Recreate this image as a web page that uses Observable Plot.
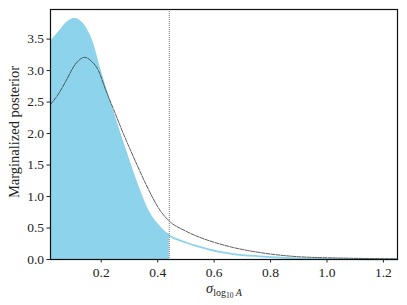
<!DOCTYPE html>
<html>
<head>
<meta charset="utf-8">
<script src="https://cdn.jsdelivr.net/npm/d3@7"></script>
<script src="https://cdn.jsdelivr.net/npm/@observablehq/plot@0.6"></script>
<style>
  html, body { margin: 0; padding: 0; background: #fff; }
  #chart svg { display: block; }
</style>
</head>
<body>
<div id="chart"></div>
<script>
// Filled (blue) marginalized posterior
const blueX = [0.021, 0.04, 0.055, 0.073, 0.09, 0.104, 0.119, 0.143, 0.167, 0.19, 0.214, 0.238, 0.265, 0.295, 0.33, 0.362, 0.38, 0.41, 0.441, 0.5, 0.55, 0.61, 0.668, 0.763, 0.904, 1.081, 1.25];
const blueY = [3.46, 3.56, 3.64, 3.74, 3.80, 3.82, 3.80, 3.68, 3.45, 3.08, 2.72, 2.38, 2.0, 1.6, 1.15, 0.80, 0.66, 0.50, 0.38, 0.27, 0.20, 0.13, 0.087, 0.05, 0.016, 0.005, 0.002];
// Dashed (black) curve
const blackX = [0.021, 0.044, 0.073, 0.108, 0.141, 0.165, 0.19, 0.215, 0.244, 0.28, 0.32, 0.36, 0.41, 0.441, 0.5, 0.55, 0.61, 0.668, 0.763, 0.904, 1.081, 1.25];
const blackY = [2.47, 2.6, 2.82, 3.1, 3.21, 3.15, 3.0, 2.7, 2.38, 1.98, 1.57, 1.18, 0.77, 0.61, 0.45, 0.35, 0.26, 0.19, 0.11, 0.043, 0.02, 0.01];
const threshold = 0.441;
const xTicks = [0.2, 0.4, 0.6, 0.8, 1.0, 1.2];
const yTicks = [0.0, 0.5, 1.0, 1.5, 2.0, 2.5, 3.0, 3.5];

const blue = blueX.map((x, i) => ({x, y: blueY[i]}));
const blueFill = blue.filter(d => d.x <= threshold + 1e-9);
const black = blackX.map((x, i) => ({x, y: blackY[i]}));

const plot = Plot.plot({
  width: 407,
  height: 305,
  marginLeft: 50,
  marginRight: 10,
  marginTop: 9,
  marginBottom: 46,
  style: {fontFamily: "'Liberation Serif', 'DejaVu Serif', serif", fontSize: "13.5px", color: "#222"},
  x: {domain: [0.02, 1.25], label: null},
  y: {domain: [0, 3.97], label: null},
  marks: [
    Plot.areaY(blueFill, {x: "x", y: "y", fill: "#8dd3eb", curve: "monotone-x"}),
    Plot.lineY(blue, {x: "x", y: "y", stroke: "#8dd3eb", strokeWidth: 1.8, curve: "monotone-x"}),
    Plot.lineY(black, {x: "x", y: "y", stroke: "#333", strokeWidth: 0.8, strokeDasharray: "4,1.2", curve: "monotone-x"}),
    Plot.ruleX([threshold], {stroke: "#777", strokeWidth: 1, strokeDasharray: "1,1"}),
    Plot.frame({stroke: "#111", strokeWidth: 1.2}),
    Plot.axisX({ticks: xTicks, tickFormat: d3.format(".1f"), tickSize: 3.5, tickPadding: 4, label: null, fontSize: 13.5}),
    Plot.axisY({ticks: yTicks, tickFormat: d3.format(".1f"), tickSize: 3.5, tickPadding: 3, label: null, fontSize: 13.5})
  ]
});
document.getElementById("chart").appendChild(plot);

const svg = d3.select(plot);
// y-axis label
svg.append("text")
  .attr("transform", "translate(19,132) rotate(-90)")
  .attr("text-anchor", "middle")
  .attr("font-size", 14.5)
  .attr("fill", "#222")
  .text("Marginalized posterior");
// x-axis label: σ_{log10 A}
const xl = svg.append("text")
  .attr("x", 224)
  .attr("y", 293)
  .attr("text-anchor", "middle")
  .attr("font-size", 14.5)
  .attr("fill", "#222");
xl.append("tspan").attr("font-style", "italic").text("σ");
xl.append("tspan").attr("font-size", 10).attr("dy", 3).text("log");
xl.append("tspan").attr("font-size", 7.5).attr("dy", 2).text("10");
xl.append("tspan").attr("font-size", 10).attr("font-style", "italic").attr("dy", -2).text(" A");
</script>
</body>
</html>
